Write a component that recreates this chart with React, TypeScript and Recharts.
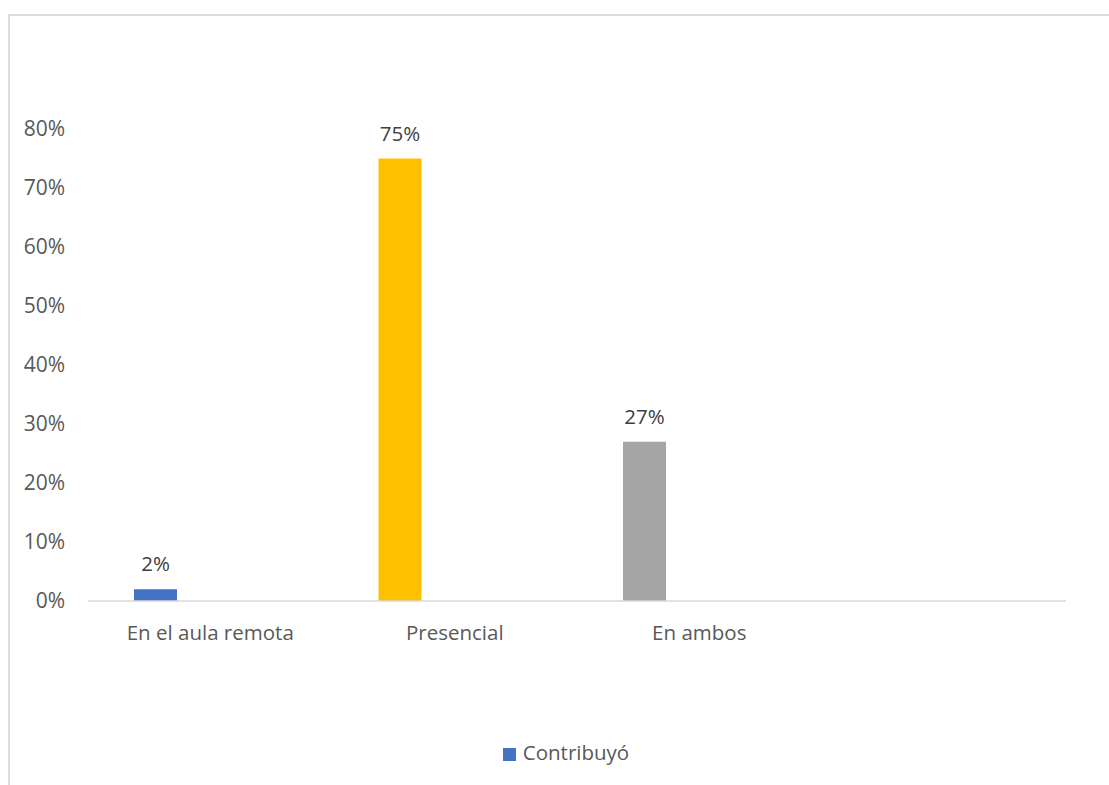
import { BarChart, Bar, XAxis, YAxis, Legend, Cell, LabelList } from "recharts"

const categories = ["En el aula remota", "Presencial", "En ambos", ""]
const contribuyo = [0.02, 0.75, 0.27, null]
const barColors = ["#4472C4", "#FFC000", "#A5A5A5", "#4472C4"]
const yTicks = [0, 0.1, 0.2, 0.3, 0.4, 0.5, 0.6, 0.7, 0.8]

const data = categories.map((name, i) => ({ name, value: contribuyo[i] }))

const font = "'Open Sans', 'Noto Sans', sans-serif"
const pct = (v: number) => `${Math.round(v * 100)}%`

export default function App() {
  return (
    <div style={{ position: "fixed", left: 0, top: 0, width: 1109, height: 785, overflow: "hidden", background: "#fff", fontFamily: font }}>
      <div style={{ position: "absolute", left: 8, top: 14, width: 1130, height: 800, border: "2px solid #dcdcdc", boxSizing: "border-box" }} />
      <div style={{ position: "absolute", left: 0, top: 0 }}>
        <BarChart width={1109} height={785} data={data} margin={{ top: 129, right: 43, left: 0, bottom: 0 }} barSize={43} barGap={66.5}>
          <YAxis
            width={88}
            domain={[0, 0.8]}
            ticks={yTicks}
            tickFormatter={pct}
            axisLine={false}
            tickLine={false}
            tickSize={0}
            tickMargin={23}
            tick={{ fill: "#595959", fontSize: 21, fontFamily: font }}
          />
          <XAxis
            dataKey="name"
            height={184}
            axisLine={{ stroke: "#d9d9d9", strokeWidth: 1.5 }}
            tickLine={false}
            tickSize={0}
            tickMargin={24}
            interval={0}
            tick={{ fill: "#595959", fontSize: 20.5, fontFamily: font }}
          />
          <Legend
            verticalAlign="middle"
            iconType="square"
            iconSize={13}
            wrapperStyle={{ top: 738, left: 0, width: 1142, fontSize: 20.5, fontFamily: font }}
            formatter={(v) => <span style={{ color: "#595959", marginLeft: 3 }}>{v}</span>}
          />
          <Bar dataKey="value" name="Contribuyó" fill="#4472C4" isAnimationActive={false}>
            {data.map((d, i) => (
              <Cell key={d.name + i} fill={barColors[i]} />
            ))}
            <LabelList dataKey="value" position="top" offset={18} formatter={(v: any) => (v == null ? "" : pct(v))} fill="#404040" fontSize={20.5} fontFamily={font} />
          </Bar>
          <Bar dataKey="extra" legendType="none" isAnimationActive={false} />
        </BarChart>
      </div>
    </div>
  )
}
